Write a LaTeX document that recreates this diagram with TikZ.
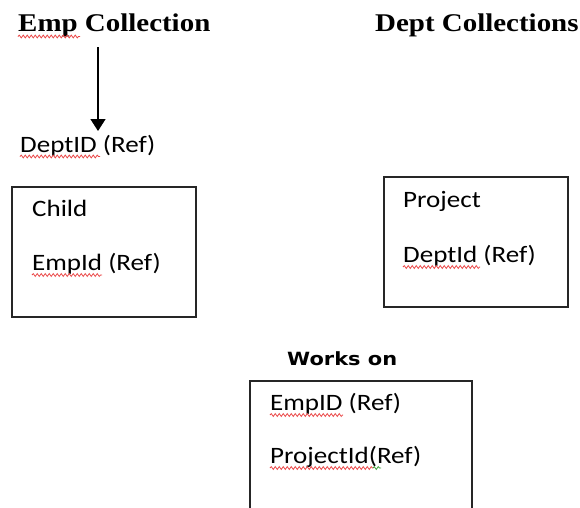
\documentclass[tikz,border=0pt]{standalone}
\usepackage{fontspec}
\setmainfont{Liberation Serif}
\newfontfamily\bodyfont{Carlito}
\newfontfamily\labelfont{DejaVu Sans}
\usetikzlibrary{arrows.meta,decorations.pathmorphing}
\definecolor{spellred}{RGB}{235,70,70}
\definecolor{spellgreen}{RGB}{60,160,60}
\newcommand\stretched[1]{\scalebox{1.15}[1]{#1}}
\newcommand\headstretched[1]{\scalebox{1.135}[1]{#1}}
\tikzset{
  heading/.style={anchor=base west, inner sep=0pt, font=\fontsize{25.5}{30}\selectfont\bfseries},
  field/.style={anchor=base west, inner sep=0pt, font=\bodyfont\fontsize{23.5}{28}\selectfont},
  boxtitle/.style={anchor=base west, inner sep=0pt, font=\labelfont\bfseries\fontsize{18.2}{22}\selectfont},
  entity/.style={draw=black!85, line width=1.3pt},
  squiggle/.style={draw=spellred, line width=0.8pt,
    decorate, decoration={snake, segment length=4pt, amplitude=1.4pt}},
}
\begin{document}
\begin{tikzpicture}[x=1pt, y=-1pt]
  \useasboundingbox[fill=white] (0,0) rectangle (580,507);

  % collection headings
  \node[heading] (emp)  at (18,31)  {\headstretched{Emp Collection}};
  \node[heading] (dept) at (375,31) {\headstretched{Dept Collections}};

  % reference from Emp to its department
  \coordinate (arrowtop) at (98,47);
  \coordinate (arrowend) at (98,131);
  \draw[line width=1.4pt, -{Triangle[length=12pt, width=15pt]}] (arrowtop) -- (arrowend);
  \node[field] (deptref) at (20,152) {\stretched{DeptID (Ref)}};

  % Child box
  \draw[entity] (12,187) rectangle (196,317);
  \node[field] (child)  at (32,216) {\stretched{Child}};
  \node[field] (empref) at (32,270) {\stretched{EmpId (Ref)}};

  % Project box
  \draw[entity] (384,177) rectangle (568,307);
  \node[field] (project)  at (403,207) {\stretched{Project}};
  \node[field] (deptidref) at (403,262) {\stretched{DeptId (Ref)}};

  % Works on box
  \node[boxtitle] (works) at (287,365) {\stretched{Works on}};
  \draw[entity] (250,515) -- (250,381) -- (472,381) -- (472,515);
  \node[field] (wempref)  at (270,410) {\stretched{EmpID (Ref)}};
  \node[field] (wprojref) at (270,463) {\stretched{ProjectId(Ref)}};

  % spelling marks under words
  \draw[squiggle] (18,36.5) -- (80,36.5);
  \draw[squiggle] (20,156.5) -- (100,156.5);
  \draw[squiggle] (32,275) -- (102,275);
  \draw[squiggle] (403,267) -- (480,267);
  \draw[squiggle] (270,415) -- (343,415);
  \draw[squiggle] (270,468) -- (373,468);
  \draw[squiggle, draw=spellgreen] (373,468) -- (381,468);
\end{tikzpicture}
\end{document}
